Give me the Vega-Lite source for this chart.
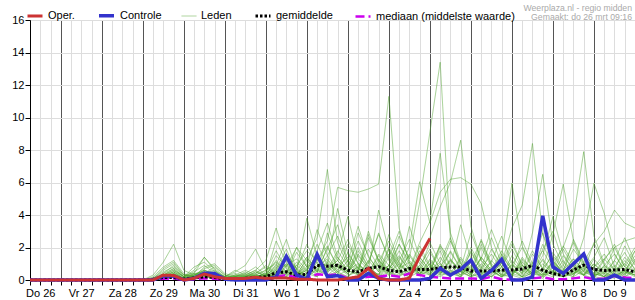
{
"$schema": "https://vega.github.io/schema/vega-lite/v6.json",
"width": 605, "height": 260,
"autosize": {"type": "none"},
"padding": {"left": 30, "top": 20, "right": 0, "bottom": 20},
"config": {"font": "Liberation Sans", "view": {"stroke": "#000", "strokeWidth": 1}},
"title": {"text": "Weerplaza.nl - regio midden", "subtitle": "Gemaakt: do 26 mrt 09:16", "anchor": "end", "frame": "group", "orient": "top", "fontSize": 8.7, "fontWeight": "normal", "color": "#aaaaaa", "subtitleFontSize": 8.7, "subtitleColor": "#aaaaaa", "subtitlePadding": 1, "offset": -16, "dx": -3, "font": "Liberation Sans", "subtitleFont": "Liberation Sans"},
"data": {"values": [
{"h":6,"op":0,"ct":0,"gm":0,"md":0},
{"h":66,"op":0,"ct":0,"gm":0,"md":0},
{"h":72,"op":0,"ct":0,"gm":0,"md":0,"a":0,"b":0,"c":0,"d":0,"e":0,"f":0,"g":0,"h2":0,"i":0,"j":0,"k":0,"l":0,"m":0,"n":0,"o":0,"p":0,"q":0,"r":0,"s":0,"t":0,"u":0,"v2":0,"w":0,"x":0},
{"h":78,"op":0,"ct":0,"gm":0.05,"md":0,"a":0.3,"b":0,"c":0.1,"d":0,"e":0.2,"f":0,"g":0.1,"h2":0,"i":0.1,"j":0,"k":0,"l":0.1,"m":0,"n":0.1,"o":0,"p":0,"q":0,"r":0,"s":0,"t":0,"u":0,"v2":0,"w":0,"x":0},
{"h":84,"op":0.3,"ct":0.25,"gm":0.15,"md":0.08,"a":1.1,"b":0.4,"c":0.6,"d":0.2,"e":0.8,"f":0.3,"g":0.5,"h2":0.2,"i":0.7,"j":0.3,"k":0.1,"l":0.4,"m":0.2,"n":0.3,"o":0.2,"p":0.1,"q":0.3,"r":0.1,"s":0.2,"t":0.1,"u":0.2,"v2":0.1,"w":0.1,"x":0.2},
{"h":90,"op":0.28,"ct":0.25,"gm":0.15,"md":0.1,"a":2.2,"b":0.9,"c":1.0,"d":0.5,"e":1.2,"f":0.7,"g":0.8,"h2":0.4,"i":1.1,"j":0.6,"k":0.3,"l":0.7,"m":0.5,"n":0.6,"o":0.4,"p":0.3,"q":0.5,"r":0.2,"s":0.3,"t":0.2,"u":0.4,"v2":0.3,"w":0.2,"x":0.3},
{"h":96,"op":0,"ct":0,"gm":0.05,"md":0,"a":0.6,"b":0.2,"c":0.3,"d":0.1,"e":0.4,"f":0.2,"g":0.3,"h2":0.1,"i":0.3,"j":0.2,"k":0.1,"l":0.2,"m":0.1,"n":0.2,"o":0.1,"p":0.1,"q":0.2,"r":0.1,"s":0.1,"t":0,"u":0.1,"v2":0.1,"w":0.1,"x":0.1},
{"h":102,"op":0.1,"ct":0.1,"gm":0.12,"md":0.05,"a":0.3,"b":0.6,"c":0.2,"d":0.4,"e":0.1,"f":0.5,"g":0.2,"h2":0.3,"i":0.4,"j":0.8,"k":0.2,"l":0.3,"m":0.1,"n":0.3,"o":0.2,"p":0.1,"q":0.4,"r":0.2,"s":0.1,"t":0.1,"u":0.2,"v2":0.3,"w":0.1,"x":0.2},
{"h":108,"op":0.37,"ct":0.42,"gm":0.2,"md":0.1,"a":0.5,"b":1.4,"c":0.8,"d":1.4,"e":0.3,"f":0.9,"g":0.6,"h2":0.7,"i":0.5,"j":1.1,"k":0.4,"l":0.6,"m":0.3,"n":0.4,"o":0.5,"p":0.2,"q":0.3,"r":0.3,"s":0.2,"t":0.2,"u":0.4,"v2":0.6,"w":0.2,"x":0.3},
{"h":114,"op":0.2,"ct":0.4,"gm":0.15,"md":0.08,"a":0.2,"b":0.7,"c":1.0,"d":0.6,"e":0.5,"f":0.4,"g":0.3,"h2":0.9,"i":0.2,"j":0.5,"k":0.6,"l":0.3,"m":0.2,"n":0.8,"o":0.3,"p":0.4,"q":0.1,"r":0.2,"s":0.1,"t":0.3,"u":0.2,"v2":0.4,"w":0.1,"x":0.2},
{"h":120,"op":0.1,"ct":0.05,"gm":0.08,"md":0.02,"a":0.1,"b":0.2,"c":0.4,"d":0.1,"e":0.2,"f":0.1,"g":0.2,"h2":0.3,"i":0.1,"j":0.2,"k":0.2,"l":0.1,"m":0.1,"n":0.3,"o":0.2,"p":0.1,"q":0.1,"r":0.1,"s":0.1,"t":0.1,"u":0.1,"v2":0.1,"w":0.1,"x":0.1},
{"h":126,"op":0.1,"ct":0,"gm":0.08,"md":0.02,"a":0.3,"b":0.1,"c":0.2,"d":0.2,"e":0.6,"f":0.2,"g":0.1,"h2":0.1,"i":0.3,"j":0.4,"k":0.1,"l":0.2,"m":0.2,"n":0.1,"o":0.5,"p":0.2,"q":0.1,"r":0.1,"s":0.2,"t":0.1,"u":0.1,"v2":0.1,"w":0.1,"x":0.3},
{"h":132,"op":0.1,"ct":0,"gm":0.1,"md":0.02,"a":0.1,"b":0.3,"c":0.1,"d":0.5,"e":0.3,"f":0.4,"g":0.2,"h2":0.2,"i":0.6,"j":0.2,"k":0.3,"l":0.1,"m":0.4,"n":0.1,"o":0.9,"p":0.3,"q":0.2,"r":0.1,"s":0.1,"t":0.2,"u":0.2,"v2":0.1,"w":0.1,"x":0.2},
{"h":138,"op":0.17,"ct":0,"gm":0.15,"md":0.05,"a":0.2,"b":0.6,"c":0.3,"d":0.2,"e":0.1,"f":0.8,"g":0.4,"h2":0.5,"i":0.3,"j":0.1,"k":0.2,"l":0.3,"m":0.2,"n":0.3,"o":1.9,"p":0.6,"q":0.4,"r":0.2,"s":0.1,"t":0.1,"u":0.3,"v2":0.2,"w":0.1,"x":0.5},
{"h":144,"op":0.1,"ct":0,"gm":0.2,"md":0.05,"a":0.4,"b":0.2,"c":0.6,"d":0.1,"e":0.3,"f":0.3,"g":0.8,"h2":0.2,"i":0.1,"j":0.5,"k":0.1,"l":0.6,"m":0.3,"n":0.2,"o":0.6,"p":1.2,"q":0.9,"r":0.3,"s":0.2,"t":0.1,"u":0.2,"v2":0.4,"w":0.1,"x":0.3},
{"h":150,"op":0.12,"ct":0.2,"gm":0.45,"md":0.2,"a":0.9,"b":1.5,"c":1.1,"d":0.7,"e":1.2,"f":2.4,"g":0.3,"h2":0.9,"i":0.5,"j":1.8,"k":0.4,"l":0.2,"m":0.8,"n":0.6,"o":1.0,"p":3.2,"q":0.4,"r":0.7,"s":0.5,"t":0.3,"u":0.6,"v2":0.2,"w":0.4,"x":0.2},
{"h":156,"op":0.12,"ct":1.45,"gm":0.5,"md":0.3,"a":2.5,"b":0.8,"c":0.5,"d":1.9,"e":0.5,"f":1.1,"g":1.4,"h2":0.4,"i":1.0,"j":0.7,"k":1.2,"l":0.9,"m":0.3,"n":1.6,"o":0.4,"p":1.3,"q":1.0,"r":0.3,"s":0.9,"t":0.6,"u":0.2,"v2":0.8,"w":0.2,"x":0.5},
{"h":162,"op":0.05,"ct":0.3,"gm":0.3,"md":0.15,"a":0.6,"b":2.0,"c":0.9,"d":0.4,"e":0.2,"f":0.5,"g":0.7,"h2":1.7,"i":0.3,"j":0.3,"k":0.5,"l":1.3,"m":0.6,"n":0.7,"o":2.0,"p":0.6,"q":0.4,"r":1.1,"s":0.3,"t":0.2,"u":0.9,"v2":0.3,"w":0.5,"x":0.3},
{"h":168,"op":0.05,"ct":0.05,"gm":0.35,"md":0.1,"a":0.3,"b":1.2,"c":1.8,"d":0.8,"e":1.4,"f":0.3,"g":2.2,"h2":0.8,"i":0.6,"j":1.0,"k":0.2,"l":0.6,"m":1.4,"n":0.3,"o":0.8,"p":3.8,"q":1.2,"r":0.5,"s":0.7,"t":0.4,"u":0.4,"v2":0.6,"w":0.2,"x":0.2},
{"h":174,"op":0,"ct":1.58,"gm":0.9,"md":0.35,"a":1.2,"b":2.6,"c":1.2,"d":3.1,"e":0.6,"f":1.8,"g":1.0,"h2":0.4,"i":2.2,"j":0.5,"k":1.1,"l":1.6,"m":0.5,"n":1.3,"o":0.3,"p":1.4,"q":0.5,"r":0.9,"s":1.5,"t":0.8,"u":0.2,"v2":0.2,"w":0.7,"x":0.6},
{"h":180,"op":0,"ct":0.2,"gm":0.85,"md":0.3,"a":2.1,"b":6.8,"c":2.4,"d":1.5,"e":1.9,"f":3.5,"g":0.5,"h2":2.9,"i":0.9,"j":1.5,"k":0.6,"l":0.7,"m":1.0,"n":0.5,"o":1.2,"p":0.6,"q":2.0,"r":0.4,"s":0.6,"t":1.3,"u":0.8,"v2":1.1,"w":0.3,"x":0.3},
{"h":186,"op":0,"ct":0.27,"gm":0.9,"md":0.35,"a":0.8,"b":2.3,"c":5.7,"d":0.6,"e":3.4,"f":1.4,"g":1.6,"h2":1.2,"i":4.4,"j":2.7,"k":1.8,"l":1.2,"m":0.4,"n":0.9,"o":0.5,"p":1.2,"q":0.8,"r":1.4,"s":1.0,"t":0.5,"u":0.3,"v2":0.4,"w":0.5,"x":0.8},
{"h":192,"op":0.1,"ct":0,"gm":0.6,"md":0.1,"a":0.4,"b":0.9,"c":5.5,"d":2.2,"e":1.1,"f":0.6,"g":3.9,"h2":0.5,"i":1.6,"j":1.1,"k":0.8,"l":2.5,"m":1.2,"n":0.4,"o":1.7,"p":0.5,"q":1.4,"r":0.6,"s":0.4,"t":0.9,"u":0.6,"v2":0.2,"w":0.2,"x":0.3},
{"h":198,"op":0.2,"ct":0,"gm":0.5,"md":0.1,"a":1.5,"b":0.3,"c":5.4,"d":1.0,"e":0.4,"f":2.9,"g":1.3,"h2":1.8,"i":0.7,"j":3.3,"k":2.4,"l":1.0,"m":0.5,"n":1.6,"o":0.7,"p":2.0,"q":0.6,"r":0.3,"s":0.8,"t":0.3,"u":1.0,"v2":0.7,"w":0.9,"x":0.5},
{"h":204,"op":0.72,"ct":0.41,"gm":0.72,"md":0.2,"a":0.7,"b":1.1,"c":5.6,"d":0.4,"e":2.6,"f":1.5,"g":0.6,"h2":0.8,"i":1.9,"j":1.4,"k":1.0,"l":0.4,"m":2.8,"n":0.7,"o":0.3,"p":0.8,"q":3.0,"r":1.2,"s":0.3,"t":0.6,"u":0.4,"v2":0.3,"w":0.4,"x":0.2},
{"h":210,"op":0.1,"ct":0.1,"gm":0.82,"md":0.2,"a":0.2,"b":2.8,"c":5.9,"d":1.6,"e":1.2,"f":0.5,"g":4.3,"h2":0.3,"i":0.8,"j":0.6,"k":2.9,"l":1.5,"m":1.1,"n":0.3,"o":1.1,"p":0.3,"q":1.2,"r":0.5,"s":1.3,"t":0.9,"u":0.2,"v2":1.0,"w":0.2,"x":0.4},
{"h":216,"op":0,"ct":0,"gm":0.6,"md":0.3,"a":0.9,"b":1.4,"c":11.3,"d":0.9,"e":0.6,"f":2.0,"g":1.8,"h2":1.4,"i":0.3,"j":2.8,"k":1.2,"l":0.6,"m":0.4,"n":1.9,"o":2.4,"p":0.9,"q":0.5,"r":1.6,"s":0.5,"t":0.3,"u":0.7,"v2":0.4,"w":0.5,"x":0.9},
{"h":222,"op":0,"ct":0,"gm":0.5,"md":0.2,"a":2.2,"b":0.5,"c":3.2,"d":2.7,"e":1.8,"f":0.9,"g":0.7,"h2":3.0,"i":1.2,"j":1.1,"k":0.5,"l":2.2,"m":1.0,"n":0.8,"o":1.0,"p":0.4,"q":1.4,"r":0.7,"s":0.2,"t":0.7,"u":1.5,"v2":0.2,"w":0.3,"x":0.4},
{"h":228,"op":0.12,"ct":0,"gm":0.7,"md":0.4,"a":1.1,"b":0.2,"c":1.0,"d":1.3,"e":0.7,"f":0.4,"g":2.0,"h2":1.2,"i":2.5,"j":0.5,"k":3.3,"l":0.9,"m":0.4,"n":1.5,"o":0.4,"p":1.6,"q":0.6,"r":1.1,"s":0.9,"t":0.3,"u":0.6,"v2":0.6,"w":0.8,"x":0.2},
{"h":234,"op":1.45,"ct":0,"gm":0.65,"md":0.3,"a":0.3,"b":0.9,"c":0.4,"d":4.8,"e":2.3,"f":1.5,"g":6.05,"h2":0.5,"i":1.0,"j":1.4,"k":1.4,"l":0.3,"m":1.8,"n":0.6,"o":0.9,"p":0.7,"q":2.1,"r":0.4,"s":0.4,"t":0.8,"u":0.3,"v2":1.2,"w":0.3,"x":0.5},
{"h":240,"op":2.55,"ct":0.1,"gm":0.65,"md":0.2,"a":0.6,"b":1.9,"c":0.8,"d":9.1,"e":3.6,"f":2.6,"g":3.5,"h2":1.7,"i":0.4,"j":0.6,"k":0.6,"l":1.3,"m":0.8,"n":2.3,"o":0.3,"p":0.3,"q":0.9,"r":1.0,"s":1.2,"t":0.4,"u":1.0,"v2":0.5,"w":0.6,"x":0.3},
{"h":246,"ct":0.72,"gm":0.75,"md":0.15,"a":1.8,"b":0.6,"c":2.1,"d":13.4,"e":7.8,"f":4.5,"g":5.4,"h2":0.7,"i":2.2,"j":2.0,"k":1.1,"l":0.5,"m":0.3,"n":1.0,"o":1.4,"p":0.8,"q":0.4,"r":0.4,"s":0.5,"t":1.0,"u":0.4,"v2":0.2,"w":0.3,"x":0.7},
{"h":252,"ct":0.3,"gm":0.8,"md":0.1,"a":0.4,"b":0.2,"c":1.3,"d":2.5,"e":2.9,"f":6.0,"g":6.2,"h2":2.4,"i":0.9,"j":0.8,"k":2.6,"l":1.8,"m":1.2,"n":0.4,"o":0.6,"p":1.7,"q":1.3,"r":1.2,"s":0.2,"t":0.4,"u":0.9,"v2":0.6,"w":0.5,"x":0.3},
{"h":258,"ct":0.65,"gm":0.8,"md":0.1,"a":0.2,"b":1.3,"c":0.5,"d":0.8,"e":1.1,"f":8.6,"g":6.3,"h2":1.0,"i":0.3,"j":3.4,"k":1.0,"l":0.7,"m":0.5,"n":1.4,"o":0.2,"p":0.7,"q":0.5,"r":0.5,"s":0.8,"t":0.6,"u":0.3,"v2":0.3,"w":0.2,"x":0.5},
{"h":264,"ct":1.22,"gm":0.55,"md":0.1,"a":1.1,"b":0.4,"c":0.2,"d":0.3,"e":0.4,"f":3.3,"g":5.9,"h2":0.4,"i":1.8,"j":1.3,"k":0.4,"l":2.9,"m":1.7,"n":0.6,"o":1.1,"p":0.3,"q":2.0,"r":0.8,"s":0.3,"t":0.2,"u":1.2,"v2":0.9,"w":0.7,"x":0.2},
{"h":270,"ct":0.1,"gm":0.55,"md":0.05,"a":2.4,"b":0.1,"c":0.7,"d":1.4,"e":2.0,"f":1.2,"g":4.7,"h2":1.3,"i":0.7,"j":0.5,"k":2.2,"l":1.2,"m":0.6,"n":2.5,"o":0.5,"p":1.0,"q":0.8,"r":0.3,"s":1.4,"t":0.5,"u":0.5,"v2":0.4,"w":0.3,"x":0.4},
{"h":276,"ct":0.58,"gm":0.55,"md":0.2,"a":0.9,"b":0.6,"c":1.6,"d":0.6,"e":0.8,"f":0.5,"g":2.0,"h2":3.1,"i":2.6,"j":1.1,"k":0.9,"l":0.5,"m":0.2,"n":1.0,"o":1.9,"p":0.4,"q":0.3,"r":1.2,"s":0.6,"t":0.8,"u":0.2,"v2":0.2,"w":0.5,"x":0.6},
{"h":282,"ct":1.27,"gm":0.62,"md":0.05,"a":0.3,"b":1.8,"c":0.6,"d":0.2,"e":0.3,"f":1.0,"g":0.8,"h2":1.5,"i":1.0,"j":2.7,"k":0.3,"l":1.6,"m":0.8,"n":0.4,"o":0.8,"p":1.5,"q":1.1,"r":0.5,"s":0.2,"t":0.3,"u":0.8,"v2":0.6,"w":0.2,"x":0.2},
{"h":288,"ct":0,"gm":0.62,"md":0.02,"a":0.2,"b":0.7,"c":0.3,"d":0.9,"e":1.5,"f":2.4,"g":0.3,"h2":5.95,"i":3.2,"j":1.0,"k":1.0,"l":0.6,"m":1.9,"n":1.2,"o":0.3,"p":0.6,"q":0.4,"r":0.9,"s":0.7,"t":0.5,"u":2.2,"v2":0.3,"w":0.6,"x":0.4},
{"h":294,"ct":0,"gm":0.68,"md":0.02,"a":1.3,"b":0.2,"c":0.1,"d":2.0,"e":0.6,"f":0.9,"g":1.2,"h2":2.1,"i":4.6,"j":0.4,"k":0.4,"l":2.4,"m":0.7,"n":0.5,"o":1.4,"p":0.2,"q":0.9,"r":0.4,"s":0.3,"t":0.9,"u":0.9,"v2":1.1,"w":0.2,"x":0.2},
{"h":300,"ct":0.18,"gm":0.9,"md":0.1,"a":0.6,"b":1.0,"c":0.5,"d":0.7,"e":0.2,"f":0.3,"g":0.5,"h2":0.8,"i":8.4,"j":2.9,"k":1.6,"l":1.0,"m":0.3,"n":1.8,"o":0.6,"p":0.9,"q":0.3,"r":1.1,"s":0.9,"t":0.4,"u":0.4,"v2":0.4,"w":0.4,"x":0.6},
{"h":306,"ct":3.95,"gm":0.6,"md":0.16,"a":0.1,"b":2.9,"c":1.2,"d":0.3,"e":1.9,"f":0.7,"g":2.2,"h2":0.3,"i":2.8,"j":6.5,"k":0.7,"l":0.4,"m":1.0,"n":0.7,"o":0.2,"p":1.8,"q":1.3,"r":0.5,"s":0.4,"t":0.3,"u":1.5,"v2":0.2,"w":0.7,"x":0.3},
{"h":312,"ct":0.8,"gm":0.4,"md":0.05,"a":0.8,"b":1.2,"c":0.4,"d":1.1,"e":3.0,"f":1.5,"g":0.9,"h2":1.2,"i":1.0,"j":2.2,"k":2.8,"l":1.1,"m":0.4,"n":0.3,"o":1.0,"p":0.7,"q":0.5,"r":1.7,"s":0.2,"t":0.6,"u":3.9,"v2":0.5,"w":0.3,"x":0.5},
{"h":318,"ct":0.4,"gm":0.28,"md":0.05,"a":2.1,"b":0.4,"c":0.9,"d":0.5,"e":1.1,"f":0.6,"g":0.4,"h2":0.5,"i":0.4,"j":0.9,"k":5.9,"l":2.0,"m":1.5,"n":1.2,"o":0.4,"p":0.3,"q":1.9,"r":0.7,"s":0.6,"t":0.2,"u":1.6,"v2":0.2,"w":0.2,"x":0.2},
{"h":324,"ct":1.0,"gm":0.62,"md":0.1,"a":1.0,"b":0.2,"c":2.3,"d":0.2,"e":0.4,"f":1.9,"g":1.3,"h2":2.5,"i":1.1,"j":0.3,"k":2.4,"l":3.8,"m":0.6,"n":0.5,"o":0.9,"p":1.0,"q":0.8,"r":0.3,"s":1.3,"t":0.4,"u":0.6,"v2":0.7,"w":0.5,"x":0.4},
{"h":330,"ct":1.6,"gm":0.92,"md":0.18,"a":0.3,"b":0.6,"c":0.7,"d":1.7,"e":0.9,"f":1.0,"g":0.6,"h2":1.1,"i":0.5,"j":1.6,"k":1.0,"l":7.9,"m":2.6,"n":1.1,"o":0.3,"p":0.4,"q":0.3,"r":0.9,"s":0.5,"t":0.8,"u":0.3,"v2":0.3,"w":0.3,"x":0.7},
{"h":336,"ct":0,"gm":0.65,"md":0.05,"a":0.1,"b":1.4,"c":0.2,"d":0.8,"e":0.3,"f":0.4,"g":0.2,"h2":0.4,"i":2.3,"j":0.6,"k":0.4,"l":2.7,"m":5.95,"n":2.2,"o":1.3,"p":0.8,"q":1.0,"r":0.4,"s":0.2,"t":0.3,"u":1.0,"v2":0.6,"w":0.8,"x":0.3},
{"h":342,"ct":0,"gm":0.58,"md":0.1,"a":0.9,"b":2.6,"c":0.1,"d":0.3,"e":1.2,"f":0.2,"g":0.9,"h2":0.8,"i":0.9,"j":0.2,"k":1.3,"l":1.0,"m":4.1,"n":3.0,"o":0.5,"p":1.6,"q":0.4,"r":0.2,"s":0.7,"t":0.5,"u":0.4,"v2":0.2,"w":1.3,"x":0.4},
{"h":348,"ct":0.3,"gm":0.62,"md":0.25,"a":1.6,"b":0.8,"c":0.6,"d":0.1,"e":2.2,"f":0.8,"g":0.4,"h2":0.3,"i":0.3,"j":1.2,"k":0.6,"l":0.4,"m":1.6,"n":4.3,"o":2.0,"p":0.6,"q":1.2,"r":0.7,"s":0.3,"t":0.2,"u":0.2,"v2":0.4,"w":2.0,"x":0.9},
{"h":354,"ct":0,"gm":0.65,"md":0.16,"a":0.5,"b":0.3,"c":1.0,"d":0.6,"e":0.8,"f":1.7,"g":1.4,"h2":1.0,"i":0.6,"j":0.5,"k":2.1,"l":1.2,"m":0.6,"n":3.5,"o":0.8,"p":0.2,"q":2.6,"r":0.3,"s":0.5,"t":0.4,"u":0.6,"v2":0.2,"w":2.4,"x":0.4},
{"h":360,"ct":0,"gm":0.5,"md":0.1,"a":0.3,"b":1.1,"c":0.4,"d":1.3,"e":0.5,"f":0.6,"g":0.7,"h2":2.0,"i":1.5,"j":0.3,"k":0.9,"l":0.5,"m":0.3,"n":3.2,"o":1.8,"p":0.7,"q":1.1,"r":1.2,"s":0.2,"t":0.6,"u":0.3,"v2":0.5,"w":2.6,"x":1.8}
]},
"encoding": {
  "x": {"field": "h", "type": "quantitative", "scale": {"domain": [6, 360], "nice": false, "zero": false},
    "axis": {"title": null, "values": [6,12,18,24,30,36,42,48,54,60,66,72,78,84,90,96,102,108,114,120,126,132,138,144,150,156,162,168,174,180,186,192,198,204,210,216,222,228,234,240,246,252,258,264,270,276,282,288,294,300,306,312,318,324,330,336,342,348,354,360],
      "labelExpr": "datum.value % 24 == 12 ? ['Do 26','Vr 27','Za 28','Zo 29','Ma 30','Di 31','Wo 1','Do 2','Vr 3','Za 4','Zo 5','Ma 6','Di 7','Wo 8','Do 9'][floor(datum.value / 24)] : ''",
      "labelOverlap": false, "labelFlush": false, "labelBound": false, "labelFontSize": 11, "labelColor": "#000", "labelPadding": 2,
      "tickColor": "#000", "tickSize": 5, "domainColor": "#000",
      "grid": true, "gridOpacity": 1, "gridColor": {"condition": {"test": "datum.value % 24 == 0", "value": "#555555"}, "value": "#dddddd"}}},
  "y": {"field": "v", "type": "quantitative", "scale": {"domain": [0, 16], "nice": false},
    "axis": {"title": null, "values": [0,2,4,6,8,10,12,14,16], "labelFontSize": 11, "labelColor": "#000", "labelPadding": 1, "tickColor": "#000", "tickSize": 5, "domainColor": "#000", "gridColor": "#dddddd", "gridOpacity": 1}}
},
"layer": [
  {"transform": [{"fold": ["a","b","c","d","e","f","g","h2","i","j","k","l","m","n","o","p","q","r","s","t","u","v2","w","x"], "as": ["k", "v"]}, {"filter": "isValid(datum.v)"}],
   "mark": {"type": "line"},
   "encoding": {
     "detail": {"field": "k"},
     "color": {"datum": "L", "type": "nominal", "scale": {"domain": ["op","ct","L","gm","md"], "range": ["#cc3333","#3333cc","#4ca22a","#000000","#cc00ee"]},
       "legend": {"orient": "none", "legendX": -4, "legendY": -14, "direction": "horizontal", "title": null, "symbolType": "stroke", "symbolSize": 225, "labelFontSize": 11, "labelColor": "#000", "columnPadding": 17,
         "labelExpr": "datum.label == 'op' ? 'Oper.' : datum.label == 'ct' ? 'Controle' : datum.label == 'L' ? 'Leden' : datum.label == 'gm' ? 'gemiddelde' : 'mediaan (middelste waarde)'"}},
     "strokeDash": {"datum": "L", "type": "nominal", "scale": {"type": "ordinal", "domain": ["op","ct","L","gm","md"], "range": [[1,0],[1,0],[1,0],[2.5,2],[9,4]]}},
     "strokeWidth": {"datum": "L", "type": "nominal", "scale": {"type": "ordinal", "domain": ["op","ct","L","gm","md"], "range": [3,3.5,1,3,2.5]}},
     "opacity": {"datum": "L", "type": "nominal", "scale": {"type": "ordinal", "domain": ["op","ct","L","gm","md"], "range": [1,1,0.5,1,1]}}
   }},
  {"transform": [{"fold": ["md","gm","ct","op"], "as": ["k", "v"]}, {"filter": "isValid(datum.v)"}],
   "mark": {"type": "line"},
   "encoding": {
     "color": {"field": "k", "type": "nominal", "scale": {"domain": ["op","ct","L","gm","md"], "range": ["#cc3333","#3333cc","#4ca22a","#000000","#cc00ee"]},
       "legend": {"orient": "none", "legendX": -4, "legendY": -14, "direction": "horizontal", "title": null, "symbolType": "stroke", "symbolSize": 225, "labelFontSize": 11, "labelColor": "#000", "columnPadding": 17,
         "labelExpr": "datum.label == 'op' ? 'Oper.' : datum.label == 'ct' ? 'Controle' : datum.label == 'L' ? 'Leden' : datum.label == 'gm' ? 'gemiddelde' : 'mediaan (middelste waarde)'"}},
     "strokeDash": {"field": "k", "type": "nominal", "scale": {"type": "ordinal", "domain": ["op","ct","L","gm","md"], "range": [[1,0],[1,0],[1,0],[2.5,2],[9,4]]}},
     "strokeWidth": {"field": "k", "type": "nominal", "scale": {"type": "ordinal", "domain": ["op","ct","L","gm","md"], "range": [3,3.5,1,3,2.5]}},
     "opacity": {"field": "k", "type": "nominal", "scale": {"type": "ordinal", "domain": ["op","ct","L","gm","md"], "range": [1,1,0.5,1,1]}}
   }}
]
}
